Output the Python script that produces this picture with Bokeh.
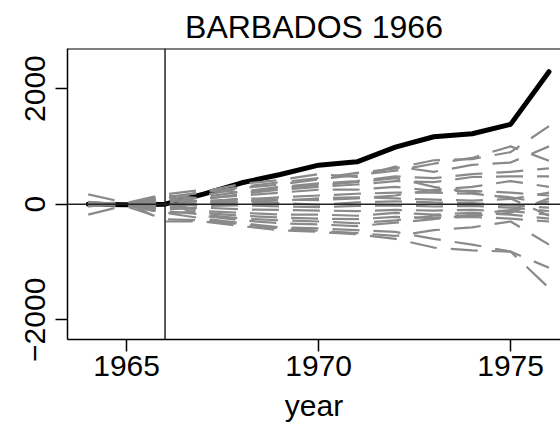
from bokeh.plotting import figure
from bokeh.models import Span, FixedTicker, Range1d
from bokeh.embed import file_html
from bokeh.resources import INLINE

# Gap between actual and synthetic outcome, by year
years = [1964, 1965, 1966, 1967, 1968, 1969, 1970, 1971, 1972, 1973, 1974, 1975, 1976]
barbados_gap = [0, -10, 0, 173, 370, 514, 675, 732, 987, 1166, 1218, 1380, 2291]

# Placebo gaps for the donor-pool units
placebo_01 = [-20, 10, 120, 200, 300, 380, 450, 540, 620, 760, 780, 900, 1350]
placebo_02 = [30, 0, -60, 150, 280, 340, 430, 500, 580, 700, 800, 1000, 750]
placebo_03 = [170, 20, 90, 220, 350, 420, 520, 470, 650, 560, 680, 720, 1000]
placebo_04 = [-30, -10, 60, 120, 220, 300, 360, 400, 480, 450, 520, 560, 620]
placebo_05 = [10, 30, -40, 80, 180, 250, 300, 340, 400, 380, 470, 480, 480]
placebo_06 = [20, -10, 150, 100, 150, 200, 250, 250, 300, 230, 230, 200, 150]
placebo_07 = [-40, 15, 40, 60, 80, 120, 150, 180, 200, 200, 180, 120, 0]
placebo_08 = [40, -20, 110, 30, 50, 60, 100, 120, 100, 80, 60, 90, 200]
placebo_09 = [0, 0, -20, 0, 30, 20, -10, 30, 50, 30, 20, -20, -60]
placebo_10 = [-30, 20, 0, -30, -20, -40, -50, -30, -20, -40, -30, -60, -120]
placebo_11 = [20, -25, -90, -60, -90, -100, -110, -120, -100, -110, -100, -120, -180]
placebo_12 = [-180, -15, -160, -120, -150, -180, -180, -200, -150, -180, -150, -180, -250]
placebo_13 = [15, 10, 60, -150, -200, -230, -250, -260, -220, -240, -220, -250, -300]
placebo_14 = [-10, 5, -120, -180, -250, -280, -300, -330, -280, -200, -200, -150, 100]
placebo_15 = [30, -30, 30, -200, -280, -330, -350, -380, -320, -260, -180, -100, 50]
placebo_16 = [-25, -20, -150, -250, -330, -400, -420, -450, -480, -600, -700, -820, -1100]
placebo_17 = [-15, 30, -300, -300, -380, -450, -480, -520, -600, -750, -800, -820, -1450]
placebo_18 = [25, -40, -260, -280, -350, -420, -460, -500, -550, -450, -400, -300, -700]
placebo_19 = [-35, 25, 170, 250, 200, 280, 330, 380, 450, 300, 200, 100, -200]
placebo_20 = [35, -5, -80, 40, 100, 80, 70, 100, 150, 250, 300, 400, 300]

placebos = [placebo_01, placebo_02, placebo_03, placebo_04, placebo_05,
            placebo_06, placebo_07, placebo_08, placebo_09, placebo_10,
            placebo_11, placebo_12, placebo_13, placebo_14, placebo_15,
            placebo_16, placebo_17, placebo_18, placebo_19, placebo_20]

x_ticks = [1965, 1970, 1975]
y_ticks = [-2000, 0, 2000]
treatment_year = 1966

FONT = "Liberation Sans"

p = figure(width=560, height=429, output_backend="svg", toolbar_location=None,
           x_range=Range1d(1963.46, 1976.30), y_range=Range1d(-2341, 2693),
           min_border_left=67, min_border_right=0, min_border_top=48, min_border_bottom=90,
           title="BARBADOS 1966")
p.outline_line_color = None
p.grid.visible = False
p.background_fill_color = "white"
p.border_fill_color = "white"

p.title.text_font = FONT
p.title.text_font_size = "32px"
p.title.text_font_style = "normal"
p.title.text_color = "black"
p.title.align = "center"
p.title.standoff = 8

for ax in (p.xaxis[0], p.yaxis[0]):
    ax.axis_line_color = "black"
    ax.axis_line_width = 1.5
    ax.major_tick_line_color = "black"
    ax.major_tick_line_width = 1.5
    ax.major_tick_out = 12
    ax.major_tick_in = 0
    ax.minor_tick_line_color = None
    ax.major_label_text_font = FONT
    ax.major_label_text_font_size = "30px"
    ax.major_label_text_color = "black"

p.xaxis.ticker = FixedTicker(ticks=x_ticks)
p.yaxis.ticker = FixedTicker(ticks=y_ticks)
p.yaxis.major_label_orientation = "vertical"
p.yaxis.major_label_standoff = 10
p.xaxis.major_label_standoff = 4
p.xaxis.axis_label = "year"
p.xaxis.axis_label_text_font = FONT
p.xaxis.axis_label_text_font_size = "30px"
p.xaxis.axis_label_text_font_style = "normal"
p.xaxis.axis_label_text_color = "black"
p.xaxis.axis_label_standoff = 10

# top border of the box
p.add_layout(Span(location=2693, dimension="width", line_color="black", line_width=2))

# treated unit first, placebo runs drawn over it
p.line(years, barbados_gap, line_color="black", line_width=5, line_join="round", line_cap="round")
p.multi_line([years] * len(placebos), placebos, line_color="#8a8a8a", line_width=2.2,
             line_dash="27 14")

p.add_layout(Span(location=0, dimension="width", line_color="#222222", line_width=1.5))
p.add_layout(Span(location=treatment_year, dimension="height", line_color="#222222", line_width=1.5))

open("out.html", "w").write(file_html(p, INLINE))
